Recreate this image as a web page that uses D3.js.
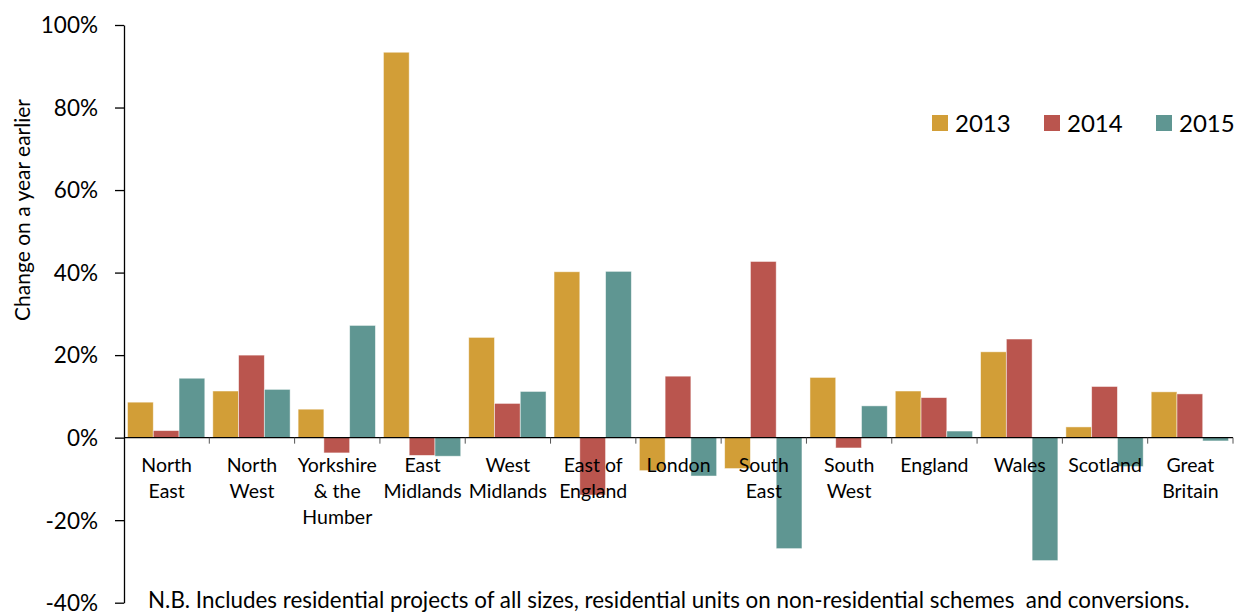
<!DOCTYPE html>
<html>
<head>
<meta charset="utf-8">
<script src="https://cdn.jsdelivr.net/npm/d3@7"></script>
<style>
  html, body { margin: 0; padding: 0; background: #fff; }
  svg { display: block; font-family: Lato, "Open Sans", sans-serif; }
</style>
</head>
<body>
<svg id="chart" width="1236" height="612"></svg>
<script>
const categories = [
  ["North", "East"],
  ["North", "West"],
  ["Yorkshire", "& the", "Humber"],
  ["East", "Midlands"],
  ["West", "Midlands"],
  ["East of", "England"],
  ["London"],
  ["South", "East"],
  ["South", "West"],
  ["England"],
  ["Wales"],
  ["Scotland"],
  ["Great", "Britain"]
];
const seriesNames = ["2013", "2014", "2015"];
const values2013 = [8.6, 11.3, 6.9, 93.4, 24.3, 40.2, -8.0, -7.5, 14.6, 11.3, 20.8, 2.6, 11.1];
const values2014 = [1.7, 20.0, -3.7, -4.3, 8.3, -13.9, 14.9, 42.7, -2.5, 9.7, 23.9, 12.4, 10.6];
const values2015 = [14.4, 11.7, 27.2, -4.5, 11.2, 40.3, -9.3, -26.9, 7.7, 1.6, -29.8, -7.0, -0.8];
const yTicks = [-40, -20, 0, 20, 40, 60, 80, 100];
const colors = ["#D29E37", "#BA554E", "#5F9692"];
const yTitle = "Change on a year earlier";
const note = "N.B. Includes residential projects of all sizes, residential units on non-residential schemes  and conversions.";

const svg = d3.select("#chart");
const mLeft = 124, mRight = 1233, mTop = 25, mBottom = 602.7;

const catKeys = categories.map((c, i) => i);
const x = d3.scaleBand().domain(catKeys).range([mLeft, mRight]).paddingInner(0).paddingOuter(0);
const x1 = d3.scaleBand().domain(seriesNames).range([3.5, x.bandwidth() - 4.5]).padding(0);
const y = d3.scaleLinear().domain([-40, 100]).range([mBottom, mTop]);

const series = [values2013, values2014, values2015];

// Bars
const g = svg.append("g");
categories.forEach((c, i) => {
  seriesNames.forEach((s, j) => {
    const v = series[j][i];
    g.append("rect")
      .attr("x", x(i) + x1(s))
      .attr("width", x1.bandwidth())
      .attr("y", y(Math.max(0, v)))
      .attr("height", Math.abs(y(v) - y(0)))
      .attr("fill", colors[j])
      .attr("stroke", "#fff")
      .attr("stroke-opacity", 0.6)
      .attr("stroke-width", 0.8);
  });
});

// Y axis
const yAxis = d3.axisLeft(y).tickValues(yTicks).tickSize(9).tickSizeOuter(0)
  .tickFormat(d => d + "%");
const yg = svg.append("g").attr("transform", `translate(${mLeft},0)`).call(yAxis);
yg.select(".domain").attr("stroke", "#000").attr("stroke-width", 1.3);
yg.selectAll(".tick line").attr("stroke", "#000").attr("stroke-width", 1.3);
yg.selectAll(".tick text").attr("x", -26).attr("dy", "0.35em")
  .attr("font-size", 22.5).attr("fill", "#000").attr("font-family", "Lato, sans-serif");

// X axis (at 0)
const xAxisLine = svg.append("g");
xAxisLine.append("line")
  .attr("x1", mLeft).attr("x2", mRight)
  .attr("y1", y(0)).attr("y2", y(0))
  .attr("stroke", "#000").attr("stroke-width", 1.3);
const boundaries = catKeys.map(i => x(i) + x.bandwidth());
xAxisLine.selectAll("line.tk").data(boundaries).enter().append("line")
  .attr("class", "tk")
  .attr("x1", d => d).attr("x2", d => d)
  .attr("y1", y(0)).attr("y2", y(0) + 6)
  .attr("stroke", "#555").attr("stroke-width", 1);

// Category labels
const labels = svg.append("g");
categories.forEach((lines, i) => {
  const t = labels.append("text")
    .attr("x", x(i) + x.bandwidth() / 2)
    .attr("y", 472)
    .attr("text-anchor", "middle")
    .attr("font-size", 19.5)
    .attr("fill", "#000");
  lines.forEach((ln, k) => {
    t.append("tspan").attr("x", x(i) + x.bandwidth() / 2).attr("dy", k === 0 ? 0 : 26).text(ln);
  });
});

// Y title
svg.append("text")
  .attr("transform", "translate(30,210) rotate(-90)")
  .attr("text-anchor", "middle")
  .attr("font-size", 21)
  .attr("fill", "#000")
  .text(yTitle);

// Legend
const legendX = [932, 1044, 1156];
const legend = svg.append("g");
seriesNames.forEach((s, j) => {
  legend.append("rect").attr("x", legendX[j]).attr("y", 115).attr("width", 16).attr("height", 16).attr("fill", colors[j]);
  legend.append("text").attr("x", legendX[j] + 23).attr("y", 131.5)
    .attr("font-size", 24).attr("fill", "#000").text(s);
});

// Note
svg.append("text")
  .attr("x", 148).attr("y", 608)
  .attr("font-size", 22.4).attr("fill", "#000")
  .style("white-space", "pre")
  .attr("xml:space", "preserve")
  .text(note);
</script>
</body>
</html>
